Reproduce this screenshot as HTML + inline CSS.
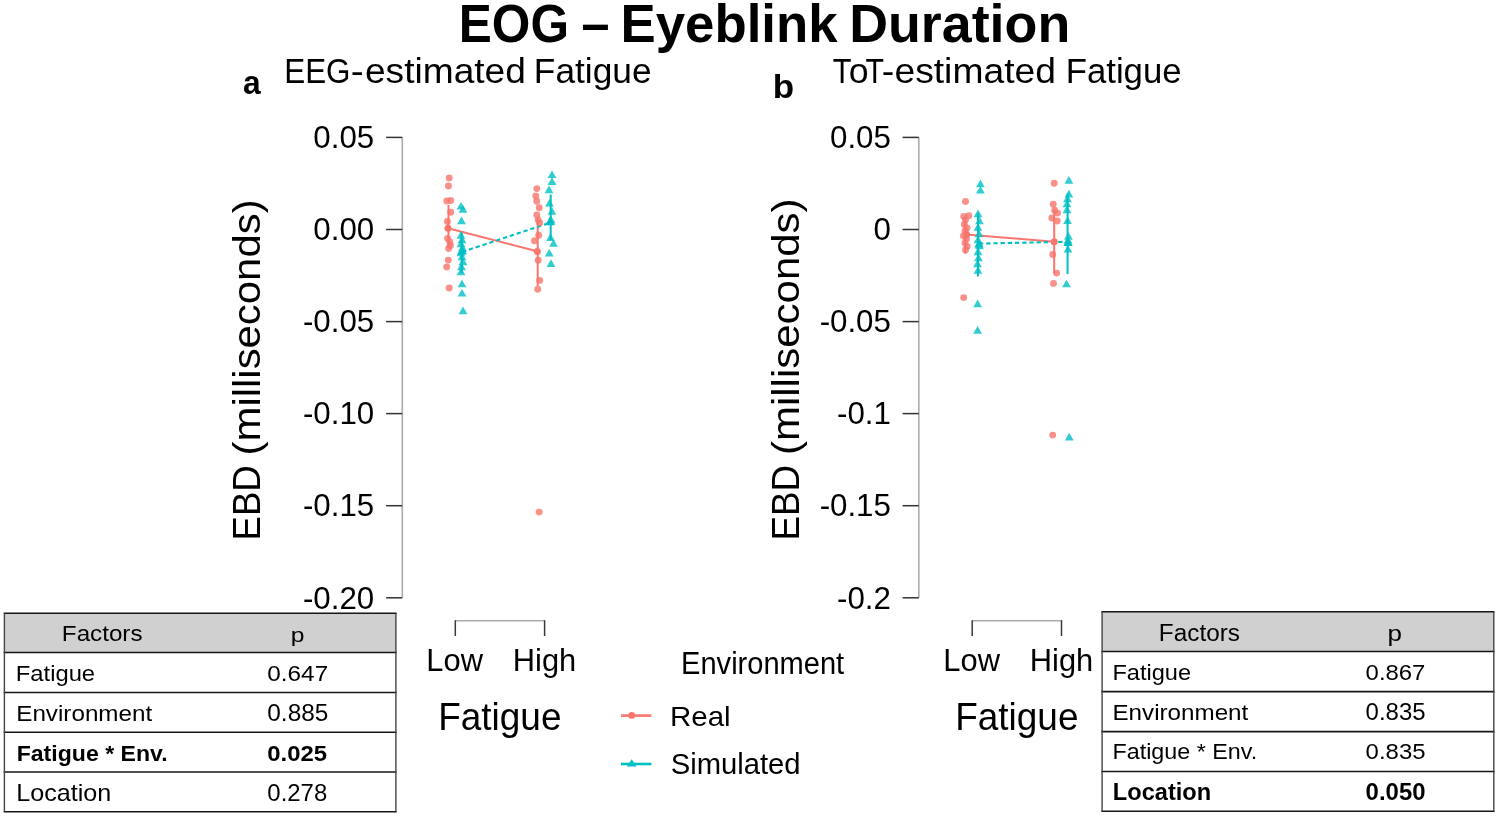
<!DOCTYPE html>
<html><head><meta charset="utf-8"><title>EOG - Eyeblink Duration</title>
<style>
html,body{margin:0;padding:0;background:#fff;}
body{width:1499px;height:817px;overflow:hidden;font-family:"Liberation Sans", sans-serif;}
svg{display:block;font-family:"Liberation Sans", sans-serif;will-change:transform;}
</style></head><body>
<svg width="1499" height="817" viewBox="0 0 1499 817">
<rect width="1499" height="817" fill="#fff"/>
<text x="458.78" y="42.0" font-size="53.62" font-weight="bold" textLength="110.23" lengthAdjust="spacingAndGlyphs" >EOG</text>
<text x="581.39" y="42.0" font-size="53.62" font-weight="bold" textLength="27.98" lengthAdjust="spacingAndGlyphs" >–</text>
<text x="620.57" y="42.0" font-size="53.62" font-weight="bold" textLength="216.98" lengthAdjust="spacingAndGlyphs" >Eyeblink</text>
<text x="849.2" y="42.0" font-size="53.62" font-weight="bold" textLength="221.07" lengthAdjust="spacingAndGlyphs" >Duration</text>
<text x="243.05" y="93.66" font-size="34.0" font-weight="bold" textLength="17.67" lengthAdjust="spacingAndGlyphs" >a</text>
<text x="772.72" y="98.37" font-size="32.65" font-weight="bold" textLength="21.41" lengthAdjust="spacingAndGlyphs" >b</text>
<text x="284.19" y="82.6" font-size="34.2" font-weight="normal" textLength="66.33" lengthAdjust="spacingAndGlyphs" >EEG</text>
<text x="350.76" y="82.6" font-size="34.2" font-weight="normal" textLength="12.91" lengthAdjust="spacingAndGlyphs" >-</text>
<text x="364.91" y="82.6" font-size="34.2" font-weight="normal" textLength="161.02" lengthAdjust="spacingAndGlyphs" >estimated</text>
<text x="533.88" y="82.6" font-size="34.2" font-weight="normal" textLength="117.73" lengthAdjust="spacingAndGlyphs" >Fatigue</text>
<text x="832.69" y="82.6" font-size="34.93" font-weight="normal" textLength="18.75" lengthAdjust="spacingAndGlyphs" >T</text>
<text x="848.67" y="82.6" font-size="34.93" font-weight="normal" textLength="19.91" lengthAdjust="spacingAndGlyphs" >o</text>
<text x="865.59" y="82.6" font-size="34.93" font-weight="normal" textLength="18.54" lengthAdjust="spacingAndGlyphs" >T</text>
<text x="881.71" y="82.6" font-size="34.93" font-weight="normal" textLength="12.51" lengthAdjust="spacingAndGlyphs" >-</text>
<text x="894.41" y="82.6" font-size="34.93" font-weight="normal" textLength="161.53" lengthAdjust="spacingAndGlyphs" >estimated</text>
<text x="1065.72" y="82.6" font-size="34.93" font-weight="normal" textLength="115.86" lengthAdjust="spacingAndGlyphs" >Fatigue</text>
<text x="426.33" y="671.3" font-size="32.17" font-weight="normal" textLength="56.66" lengthAdjust="spacingAndGlyphs" >Low</text>
<text x="512.83" y="671.3" font-size="32.17" font-weight="normal" textLength="63.42" lengthAdjust="spacingAndGlyphs" >High</text>
<text x="438.24" y="729.6" font-size="38.26" font-weight="normal" textLength="123.24" lengthAdjust="spacingAndGlyphs" >Fatigue</text>
<text x="943.33" y="671.3" font-size="32.17" font-weight="normal" textLength="56.66" lengthAdjust="spacingAndGlyphs" >Low</text>
<text x="1029.83" y="671.3" font-size="32.17" font-weight="normal" textLength="63.42" lengthAdjust="spacingAndGlyphs" >High</text>
<text x="955.24" y="729.6" font-size="38.26" font-weight="normal" textLength="123.24" lengthAdjust="spacingAndGlyphs" >Fatigue</text>
<text x="681.08" y="673.8" font-size="30.43" font-weight="normal" textLength="163.08" lengthAdjust="spacingAndGlyphs" >Environment</text>
<text x="670.04" y="725.86" font-size="28.35" font-weight="normal" textLength="60.62" lengthAdjust="spacingAndGlyphs" >Real</text>
<text x="670.69" y="774.31" font-size="28.73" font-weight="normal" textLength="129.92" lengthAdjust="spacingAndGlyphs" >Simulated</text>
<path d="M402.3 137.4 V597.8" stroke="#ababab" stroke-width="1.6" fill="none"/>
<path d="M386.1 137.4 H402.3" stroke="#333" stroke-width="1.5" fill="none"/>
<text x="374.2" y="148.19" font-size="31.27" text-anchor="end">0.05</text>
<path d="M386.1 229.5 H402.3" stroke="#333" stroke-width="1.5" fill="none"/>
<text x="374.2" y="240.29" font-size="31.27" text-anchor="end">0.00</text>
<path d="M386.1 321.6 H402.3" stroke="#333" stroke-width="1.5" fill="none"/>
<text x="374.2" y="332.39" font-size="31.27" text-anchor="end">-0.05</text>
<path d="M386.1 413.6 H402.3" stroke="#333" stroke-width="1.5" fill="none"/>
<text x="374.2" y="424.39" font-size="31.27" text-anchor="end">-0.10</text>
<path d="M386.1 505.7 H402.3" stroke="#333" stroke-width="1.5" fill="none"/>
<text x="374.2" y="516.49" font-size="31.27" text-anchor="end">-0.15</text>
<path d="M386.1 597.8 H402.3" stroke="#333" stroke-width="1.5" fill="none"/>
<text x="374.2" y="608.59" font-size="31.27" text-anchor="end">-0.20</text>
<g transform="translate(260,538) rotate(-90)">
<text x="-2.53" y="0" font-size="39.28" textLength="75.22" lengthAdjust="spacingAndGlyphs">EBD</text>
<text x="82.59" y="0" font-size="39.28" textLength="256.02" lengthAdjust="spacingAndGlyphs">(milliseconds)</text>
</g>
<path d="M918.8 137.4 V597.8" stroke="#ababab" stroke-width="1.6" fill="none"/>
<path d="M902.5999999999999 137.4 H918.8" stroke="#333" stroke-width="1.5" fill="none"/>
<text x="890.9000000000001" y="148.19" font-size="31.27" text-anchor="end">0.05</text>
<path d="M902.5999999999999 229.5 H918.8" stroke="#333" stroke-width="1.5" fill="none"/>
<text x="890.9000000000001" y="240.29" font-size="31.27" text-anchor="end">0</text>
<path d="M902.5999999999999 321.6 H918.8" stroke="#333" stroke-width="1.5" fill="none"/>
<text x="890.9000000000001" y="332.39" font-size="31.27" text-anchor="end">-0.05</text>
<path d="M902.5999999999999 413.6 H918.8" stroke="#333" stroke-width="1.5" fill="none"/>
<text x="890.9000000000001" y="424.39" font-size="31.27" text-anchor="end">-0.1</text>
<path d="M902.5999999999999 505.7 H918.8" stroke="#333" stroke-width="1.5" fill="none"/>
<text x="890.9000000000001" y="516.49" font-size="31.27" text-anchor="end">-0.15</text>
<path d="M902.5999999999999 597.8 H918.8" stroke="#333" stroke-width="1.5" fill="none"/>
<text x="890.9000000000001" y="608.59" font-size="31.27" text-anchor="end">-0.2</text>
<g transform="translate(799,538) rotate(-90)">
<text x="-2.54" y="0" font-size="39.28" textLength="75.64" lengthAdjust="spacingAndGlyphs">EBD</text>
<text x="82.98" y="0" font-size="39.28" textLength="256.64" lengthAdjust="spacingAndGlyphs">(milliseconds)</text>
</g>
<path d="M455.3 620.8 H544.6" stroke="#ababab" stroke-width="1.6" fill="none"/>
<path d="M455.3 620.2 V636" stroke="#3a3a3a" stroke-width="1.5" fill="none"/>
<path d="M544.6 620.2 V636" stroke="#3a3a3a" stroke-width="1.5" fill="none"/>
<path d="M972.2 620.8 H1061.5" stroke="#ababab" stroke-width="1.6" fill="none"/>
<path d="M972.2 620.2 V636" stroke="#3a3a3a" stroke-width="1.5" fill="none"/>
<path d="M1061.5 620.2 V636" stroke="#3a3a3a" stroke-width="1.5" fill="none"/>
<path d="M621 715.6 H651.4" stroke="#F8766D" stroke-width="2.6"/>
<circle cx="631.7" cy="715.4" r="3.4" fill="#F8766D"/>
<path d="M621 764 H651.4" stroke="#00BFC4" stroke-width="2.6"/>
<path d="M631.7 759.2 L636.4 766.4 L627 766.4Z" fill="#00BFC4"/>
<path d="M448.5 205 V248" stroke="#F8766D" stroke-width="2"/>
<path d="M537.7 218 V286" stroke="#F8766D" stroke-width="2"/>
<path d="M461.7 231.5 V273" stroke="#00BFC4" stroke-width="2"/>
<path d="M550.7 194.5 V240" stroke="#00BFC4" stroke-width="2"/>
<path d="M448 228.2 L537 251.3" stroke="#F8766D" stroke-width="2"/>
<path d="M462 252 L550 222.7" stroke="#00BFC4" stroke-width="2.1" stroke-dasharray="4.3 2.9"/>
<circle cx="449.2" cy="178" r="3.45" fill="#F8766D" fill-opacity="0.8"/>
<circle cx="448.4" cy="186" r="3.45" fill="#F8766D" fill-opacity="0.8"/>
<circle cx="446.8" cy="201" r="3.45" fill="#F8766D" fill-opacity="0.8"/>
<circle cx="450.7" cy="200.5" r="3.45" fill="#F8766D" fill-opacity="0.8"/>
<circle cx="450.7" cy="212.2" r="3.45" fill="#F8766D" fill-opacity="0.8"/>
<circle cx="447.4" cy="221.5" r="3.45" fill="#F8766D" fill-opacity="0.8"/>
<circle cx="447.6" cy="238.5" r="3.45" fill="#F8766D" fill-opacity="0.8"/>
<circle cx="449.8" cy="242" r="3.45" fill="#F8766D" fill-opacity="0.8"/>
<circle cx="450.4" cy="245.5" r="3.45" fill="#F8766D" fill-opacity="0.8"/>
<circle cx="448.6" cy="248.5" r="3.45" fill="#F8766D" fill-opacity="0.8"/>
<circle cx="448.3" cy="260.1" r="3.45" fill="#F8766D" fill-opacity="0.8"/>
<circle cx="446.7" cy="267" r="3.45" fill="#F8766D" fill-opacity="0.8"/>
<circle cx="449.2" cy="288" r="3.45" fill="#F8766D" fill-opacity="0.8"/>
<circle cx="539.1" cy="512.1" r="3.45" fill="#F8766D" fill-opacity="0.8"/>
<circle cx="536.8" cy="188.6" r="3.45" fill="#F8766D" fill-opacity="0.8"/>
<circle cx="535.8" cy="196" r="3.45" fill="#F8766D" fill-opacity="0.8"/>
<circle cx="536.8" cy="201.3" r="3.45" fill="#F8766D" fill-opacity="0.8"/>
<circle cx="539.2" cy="207.7" r="3.45" fill="#F8766D" fill-opacity="0.8"/>
<circle cx="536.8" cy="215" r="3.45" fill="#F8766D" fill-opacity="0.8"/>
<circle cx="538.2" cy="220" r="3.45" fill="#F8766D" fill-opacity="0.8"/>
<circle cx="539.7" cy="222.9" r="3.45" fill="#F8766D" fill-opacity="0.8"/>
<circle cx="538.7" cy="235.3" r="3.45" fill="#F8766D" fill-opacity="0.8"/>
<circle cx="534.5" cy="240.7" r="3.45" fill="#F8766D" fill-opacity="0.8"/>
<circle cx="538.2" cy="260.3" r="3.45" fill="#F8766D" fill-opacity="0.8"/>
<circle cx="539.7" cy="280.4" r="3.45" fill="#F8766D" fill-opacity="0.8"/>
<circle cx="537.7" cy="289.2" r="3.45" fill="#F8766D" fill-opacity="0.8"/>
<path d="M461 201.9 L465.4 209.5 L456.6 209.5Z" fill="#00BFC4" fill-opacity="0.8"/>
<path d="M463 205.1 L467.4 212.7 L458.6 212.7Z" fill="#00BFC4" fill-opacity="0.8"/>
<path d="M461.5 216.6 L465.9 224.2 L457.1 224.2Z" fill="#00BFC4" fill-opacity="0.8"/>
<path d="M461 231.1 L465.4 238.7 L456.6 238.7Z" fill="#00BFC4" fill-opacity="0.8"/>
<path d="M462 235.6 L466.4 243.2 L457.6 243.2Z" fill="#00BFC4" fill-opacity="0.8"/>
<path d="M461 239.6 L465.4 247.2 L456.6 247.2Z" fill="#00BFC4" fill-opacity="0.8"/>
<path d="M462.5 243.6 L466.9 251.2 L458.1 251.2Z" fill="#00BFC4" fill-opacity="0.8"/>
<path d="M461 248.6 L465.4 256.2 L456.6 256.2Z" fill="#00BFC4" fill-opacity="0.8"/>
<path d="M462 252.6 L466.4 260.2 L457.6 260.2Z" fill="#00BFC4" fill-opacity="0.8"/>
<path d="M463 257.6 L467.4 265.2 L458.6 265.2Z" fill="#00BFC4" fill-opacity="0.8"/>
<path d="M461.5 262.6 L465.9 270.2 L457.1 270.2Z" fill="#00BFC4" fill-opacity="0.8"/>
<path d="M461 267.6 L465.4 275.2 L456.6 275.2Z" fill="#00BFC4" fill-opacity="0.8"/>
<path d="M462 279.7 L466.4 287.3 L457.6 287.3Z" fill="#00BFC4" fill-opacity="0.8"/>
<path d="M462 289.0 L466.4 296.6 L457.6 296.6Z" fill="#00BFC4" fill-opacity="0.8"/>
<path d="M463 306.6 L467.4 314.2 L458.6 314.2Z" fill="#00BFC4" fill-opacity="0.8"/>
<path d="M552 170.4 L556.4 178.0 L547.6 178.0Z" fill="#00BFC4" fill-opacity="0.8"/>
<path d="M552 177.3 L556.4 184.9 L547.6 184.9Z" fill="#00BFC4" fill-opacity="0.8"/>
<path d="M549 185.6 L553.4 193.2 L544.6 193.2Z" fill="#00BFC4" fill-opacity="0.8"/>
<path d="M549.5 198.9 L553.9 206.5 L545.1 206.5Z" fill="#00BFC4" fill-opacity="0.8"/>
<path d="M552 207.2 L556.4 214.8 L547.6 214.8Z" fill="#00BFC4" fill-opacity="0.8"/>
<path d="M551.3 216.0 L555.7 223.6 L546.9 223.6Z" fill="#00BFC4" fill-opacity="0.8"/>
<path d="M550.5 233.3 L554.9 240.9 L546.1 240.9Z" fill="#00BFC4" fill-opacity="0.8"/>
<path d="M553.5 239.2 L557.9 246.8 L549.1 246.8Z" fill="#00BFC4" fill-opacity="0.8"/>
<path d="M549.3 249.0 L553.7 256.6 L544.9 256.6Z" fill="#00BFC4" fill-opacity="0.8"/>
<path d="M551 259.3 L555.4 266.9 L546.6 266.9Z" fill="#00BFC4" fill-opacity="0.8"/>
<circle cx="448" cy="228.2" r="3.5" fill="#F8766D" fill-opacity="1"/>
<circle cx="537.3" cy="251.5" r="3.5" fill="#F8766D" fill-opacity="1"/>
<path d="M462 246.0 L466.9 254.5 L457.1 254.5Z" fill="#00BFC4" fill-opacity="1"/>
<path d="M550 216.7 L554.9 225.2 L545.1 225.2Z" fill="#00BFC4" fill-opacity="1"/>
<path d="M965.2 217 V253.7" stroke="#F8766D" stroke-width="2"/>
<path d="M1054.2 209 V273.5" stroke="#F8766D" stroke-width="2"/>
<path d="M978 213 V276.4" stroke="#00BFC4" stroke-width="2"/>
<path d="M1067.6 193.5 V274.1" stroke="#00BFC4" stroke-width="2"/>
<path d="M966.5 234.4 L1054.2 241.8" stroke="#F8766D" stroke-width="2"/>
<path d="M979 243.6 L1066 241.8" stroke="#00BFC4" stroke-width="2.1" stroke-dasharray="4.3 2.9"/>
<circle cx="965.5" cy="201.5" r="3.45" fill="#F8766D" fill-opacity="0.8"/>
<circle cx="963.8" cy="216.5" r="3.45" fill="#F8766D" fill-opacity="0.8"/>
<circle cx="968.8" cy="215.8" r="3.45" fill="#F8766D" fill-opacity="0.8"/>
<circle cx="965.5" cy="220" r="3.45" fill="#F8766D" fill-opacity="0.8"/>
<circle cx="964.3" cy="224.5" r="3.45" fill="#F8766D" fill-opacity="0.8"/>
<circle cx="967" cy="228" r="3.45" fill="#F8766D" fill-opacity="0.8"/>
<circle cx="965" cy="231" r="3.45" fill="#F8766D" fill-opacity="0.8"/>
<circle cx="963.5" cy="236" r="3.45" fill="#F8766D" fill-opacity="0.8"/>
<circle cx="966.5" cy="239" r="3.45" fill="#F8766D" fill-opacity="0.8"/>
<circle cx="965" cy="243" r="3.45" fill="#F8766D" fill-opacity="0.8"/>
<circle cx="967.2" cy="246.5" r="3.45" fill="#F8766D" fill-opacity="0.8"/>
<circle cx="965.5" cy="250" r="3.45" fill="#F8766D" fill-opacity="0.8"/>
<circle cx="963.7" cy="297.6" r="3.45" fill="#F8766D" fill-opacity="0.8"/>
<circle cx="1054.2" cy="183.2" r="3.45" fill="#F8766D" fill-opacity="0.8"/>
<circle cx="1053.2" cy="204.3" r="3.45" fill="#F8766D" fill-opacity="0.8"/>
<circle cx="1054.7" cy="210.2" r="3.45" fill="#F8766D" fill-opacity="0.8"/>
<circle cx="1057.6" cy="213.1" r="3.45" fill="#F8766D" fill-opacity="0.8"/>
<circle cx="1051.8" cy="218" r="3.45" fill="#F8766D" fill-opacity="0.8"/>
<circle cx="1057.2" cy="221" r="3.45" fill="#F8766D" fill-opacity="0.8"/>
<circle cx="1052.7" cy="254.5" r="3.45" fill="#F8766D" fill-opacity="0.8"/>
<circle cx="1056.7" cy="273.1" r="3.45" fill="#F8766D" fill-opacity="0.8"/>
<circle cx="1053.5" cy="283.4" r="3.45" fill="#F8766D" fill-opacity="0.8"/>
<circle cx="1052.7" cy="435.1" r="3.45" fill="#F8766D" fill-opacity="0.8"/>
<path d="M980.4 179.6 L984.8 187.2 L976.0 187.2Z" fill="#00BFC4" fill-opacity="0.8"/>
<path d="M980.4 186.0 L984.8 193.6 L976.0 193.6Z" fill="#00BFC4" fill-opacity="0.8"/>
<path d="M978 209.6 L982.4 217.2 L973.6 217.2Z" fill="#00BFC4" fill-opacity="0.8"/>
<path d="M979.5 216.6 L983.9 224.2 L975.1 224.2Z" fill="#00BFC4" fill-opacity="0.8"/>
<path d="M978 223.1 L982.4 230.7 L973.6 230.7Z" fill="#00BFC4" fill-opacity="0.8"/>
<path d="M979 229.6 L983.4 237.2 L974.6 237.2Z" fill="#00BFC4" fill-opacity="0.8"/>
<path d="M978 235.6 L982.4 243.2 L973.6 243.2Z" fill="#00BFC4" fill-opacity="0.8"/>
<path d="M979.5 241.6 L983.9 249.2 L975.1 249.2Z" fill="#00BFC4" fill-opacity="0.8"/>
<path d="M978 247.6 L982.4 255.2 L973.6 255.2Z" fill="#00BFC4" fill-opacity="0.8"/>
<path d="M978.5 253.6 L982.9 261.2 L974.1 261.2Z" fill="#00BFC4" fill-opacity="0.8"/>
<path d="M977.5 259.6 L981.9 267.2 L973.1 267.2Z" fill="#00BFC4" fill-opacity="0.8"/>
<path d="M978 266.1 L982.4 273.7 L973.6 273.7Z" fill="#00BFC4" fill-opacity="0.8"/>
<path d="M977.6 299.6 L982.0 307.2 L973.2 307.2Z" fill="#00BFC4" fill-opacity="0.8"/>
<path d="M977.6 326.1 L982.0 333.7 L973.2 333.7Z" fill="#00BFC4" fill-opacity="0.8"/>
<path d="M1068.9 176.1 L1073.3 183.7 L1064.5 183.7Z" fill="#00BFC4" fill-opacity="0.8"/>
<path d="M1068.9 189.8 L1073.3 197.4 L1064.5 197.4Z" fill="#00BFC4" fill-opacity="0.8"/>
<path d="M1067.5 194.6 L1071.9 202.2 L1063.1 202.2Z" fill="#00BFC4" fill-opacity="0.8"/>
<path d="M1067 199.6 L1071.4 207.2 L1062.6 207.2Z" fill="#00BFC4" fill-opacity="0.8"/>
<path d="M1067 205.6 L1071.4 213.2 L1062.6 213.2Z" fill="#00BFC4" fill-opacity="0.8"/>
<path d="M1067.5 216.3 L1071.9 223.9 L1063.1 223.9Z" fill="#00BFC4" fill-opacity="0.8"/>
<path d="M1068.4 232.1 L1072.8 239.7 L1064.0 239.7Z" fill="#00BFC4" fill-opacity="0.8"/>
<path d="M1068 236.1 L1072.4 243.7 L1063.6 243.7Z" fill="#00BFC4" fill-opacity="0.8"/>
<path d="M1068 244.9 L1072.4 252.5 L1063.6 252.5Z" fill="#00BFC4" fill-opacity="0.8"/>
<path d="M1066.5 279.7 L1070.9 287.3 L1062.1 287.3Z" fill="#00BFC4" fill-opacity="0.8"/>
<path d="M1069.3 432.8 L1073.7 440.4 L1064.9 440.4Z" fill="#00BFC4" fill-opacity="0.8"/>
<circle cx="966.5" cy="234.4" r="3.5" fill="#F8766D" fill-opacity="1"/>
<circle cx="1054.2" cy="241.8" r="3.5" fill="#F8766D" fill-opacity="1"/>
<path d="M979 239.2 L983.7 247.4 L974.3 247.4Z" fill="#00BFC4" fill-opacity="1"/>
<path d="M1068 237.7 L1072.7 245.9 L1063.3 245.9Z" fill="#00BFC4" fill-opacity="1"/>
<rect x="4.4" y="613.3" width="391.5" height="39.10000000000002" fill="#d0d0d0"/>
<path d="M3.7 613.3 H396.59999999999997" stroke="#151515" stroke-width="1.55"/>
<path d="M3.7 652.4 H396.59999999999997" stroke="#151515" stroke-width="1.55"/>
<path d="M3.7 692.5 H396.59999999999997" stroke="#151515" stroke-width="1.55"/>
<path d="M3.7 732.3 H396.59999999999997" stroke="#151515" stroke-width="1.55"/>
<path d="M3.7 771.9 H396.59999999999997" stroke="#151515" stroke-width="1.55"/>
<path d="M3.7 811.8 H396.59999999999997" stroke="#151515" stroke-width="1.55"/>
<path d="M4.4 613.3 V811.8" stroke="#444" stroke-width="1.4"/>
<path d="M395.9 613.3 V811.8" stroke="#444" stroke-width="1.4"/>
<text x="61.86" y="641.4" font-size="22.17" font-weight="normal" textLength="80.66" lengthAdjust="spacingAndGlyphs" >Factors</text>
<text x="290.7" y="642.09" font-size="20.53" font-weight="normal" textLength="13.72" lengthAdjust="spacingAndGlyphs" >p</text>
<text x="15.8" y="681.3" font-size="22.61" font-weight="normal" textLength="79.28" lengthAdjust="spacingAndGlyphs" >Fatigue</text>
<text x="267.33" y="681.47" font-size="22.96" font-weight="normal" textLength="60.83" lengthAdjust="spacingAndGlyphs" >0.647</text>
<text x="16.26" y="721.1" font-size="22.61" font-weight="normal" textLength="135.95" lengthAdjust="spacingAndGlyphs" >Environment</text>
<text x="267.32" y="721.17" font-size="23.38" font-weight="normal" textLength="61.01" lengthAdjust="spacingAndGlyphs" >0.885</text>
<text x="16.7" y="760.7" font-size="22.46" font-weight="bold" textLength="150.87" lengthAdjust="spacingAndGlyphs" >Fatigue * Env.</text>
<text x="267.34" y="760.77" font-size="22.96" font-weight="bold" textLength="59.81" lengthAdjust="spacingAndGlyphs" >0.025</text>
<text x="16.19" y="800.8" font-size="23.19" font-weight="normal" textLength="95.07" lengthAdjust="spacingAndGlyphs" >Location</text>
<text x="267.34" y="800.77" font-size="23.24" font-weight="normal" textLength="59.87" lengthAdjust="spacingAndGlyphs" >0.278</text>
<rect x="1102.1" y="611.7" width="391.70000000000005" height="39.799999999999955" fill="#d0d0d0"/>
<path d="M1101.3999999999999 611.7 H1494.5" stroke="#151515" stroke-width="1.55"/>
<path d="M1101.3999999999999 651.5 H1494.5" stroke="#151515" stroke-width="1.55"/>
<path d="M1101.3999999999999 691.6 H1494.5" stroke="#151515" stroke-width="1.55"/>
<path d="M1101.3999999999999 731.6 H1494.5" stroke="#151515" stroke-width="1.55"/>
<path d="M1101.3999999999999 771.4 H1494.5" stroke="#151515" stroke-width="1.55"/>
<path d="M1101.3999999999999 811.3 H1494.5" stroke="#151515" stroke-width="1.55"/>
<path d="M1102.1 611.7 V811.3" stroke="#444" stroke-width="1.4"/>
<path d="M1493.8 611.7 V811.3" stroke="#444" stroke-width="1.4"/>
<text x="1158.85" y="640.8" font-size="23.33" font-weight="normal" textLength="81.07" lengthAdjust="spacingAndGlyphs" >Factors</text>
<text x="1387.51" y="641.26" font-size="21.6" font-weight="normal" textLength="14.46" lengthAdjust="spacingAndGlyphs" >p</text>
<text x="1112.41" y="680.4" font-size="22.61" font-weight="normal" textLength="78.66" lengthAdjust="spacingAndGlyphs" >Fatigue</text>
<text x="1365.64" y="680.47" font-size="22.68" font-weight="normal" textLength="59.79" lengthAdjust="spacingAndGlyphs" >0.867</text>
<text x="1112.46" y="719.8" font-size="22.9" font-weight="normal" textLength="135.85" lengthAdjust="spacingAndGlyphs" >Environment</text>
<text x="1365.64" y="719.87" font-size="23.1" font-weight="normal" textLength="59.87" lengthAdjust="spacingAndGlyphs" >0.835</text>
<text x="1112.54" y="759.2" font-size="22.61" font-weight="normal" textLength="144.61" lengthAdjust="spacingAndGlyphs" >Fatigue * Env.</text>
<text x="1365.64" y="759.27" font-size="22.82" font-weight="normal" textLength="59.87" lengthAdjust="spacingAndGlyphs" >0.835</text>
<text x="1112.87" y="800.3" font-size="23.62" font-weight="bold" textLength="98.29" lengthAdjust="spacingAndGlyphs" >Location</text>
<text x="1365.64" y="800.36" font-size="23.8" font-weight="bold" textLength="59.87" lengthAdjust="spacingAndGlyphs" >0.050</text>
</svg>
</body></html>
